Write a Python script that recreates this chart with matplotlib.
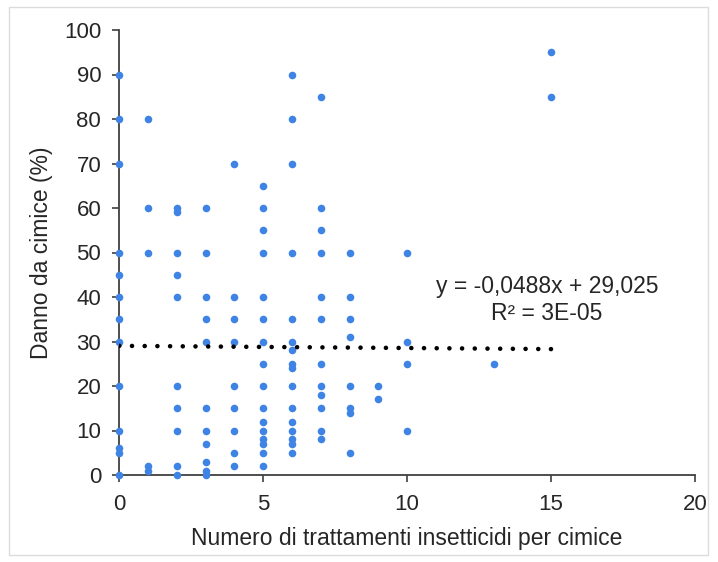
import matplotlib
matplotlib.use("Agg")
import matplotlib.pyplot as plt
from matplotlib.patches import Rectangle

plt.rcParams['font.family'] = ['Liberation Sans', 'DejaVu Sans']

# Data: treatments (x) and damage % (y), grouped by treatment count
treat_0 = [90, 80, 70, 50, 45, 40, 35, 30, 20, 10, 6, 5, 0]
treat_1 = [80, 60, 50, 2, 1]
treat_2 = [60, 59, 50, 45, 40, 20, 15, 10, 2, 0]
treat_3 = [60, 50, 40, 35, 30, 15, 10, 7, 3, 1, 0]
treat_4 = [70, 40, 35, 30, 20, 15, 10, 5, 2]
treat_5 = [65, 60, 55, 50, 40, 35, 30, 25, 20, 15, 12, 10, 8, 7, 5, 2]
treat_6 = [90, 80, 70, 50, 35, 30, 28, 25, 24, 20, 15, 12, 10, 8, 7, 5]
treat_7 = [85, 60, 55, 50, 40, 35, 25, 20, 18, 15, 10, 8]
treat_8 = [50, 40, 35, 31, 20, 15, 14, 5]
treat_9 = [20, 17]
treat_10 = [50, 30, 25, 10]
treat_13 = [25]
treat_15 = [95, 85]

groups = {0: treat_0, 1: treat_1, 2: treat_2, 3: treat_3, 4: treat_4,
          5: treat_5, 6: treat_6, 7: treat_7, 8: treat_8, 9: treat_9,
          10: treat_10, 13: treat_13, 15: treat_15}

x_vals = []
y_vals = []
for k, ys in groups.items():
    x_vals += [k] * len(ys)
    y_vals += ys

# Trend line (as reported)
slope = -0.0488
intercept = 29.025
trend_x = [0, 15]
trend_y = [slope * v + intercept for v in trend_x]

x_ticks = [0, 5, 10, 15, 20]
y_ticks = [0, 10, 20, 30, 40, 50, 60, 70, 80, 90, 100]

W, H = 718, 562
fig = plt.figure(figsize=(W / 100, H / 100), dpi=100)
fig.patches.append(Rectangle((9 / W, 1 - 555 / H), (708 - 9) / W, (555 - 7) / H,
                             transform=fig.transFigure, fill=False,
                             edgecolor='#dcdcdc', linewidth=1.0))

ax = fig.add_axes([119.3 / W, 1 - 475 / H, (695 - 119.3) / W, (475 - 30) / H])
ax.scatter(x_vals, y_vals, s=30, color='#3F84E5', zorder=3, linewidths=0, clip_on=False)
ax.plot(trend_x, trend_y, color='black', linewidth=3.3,
        linestyle=(0, (0.01, 2.76)), dash_capstyle='round', zorder=4)

ax.set_xlim(0, 20)
ax.set_ylim(0, 100)
ax.set_xticks(x_ticks)
ax.set_yticks(y_ticks)
ax.tick_params(axis='both', direction='out', length=5, width=1.2, color='#404040',
               labelsize=16, labelcolor='#262626')
ax.tick_params(axis='y', pad=8)
ax.tick_params(axis='x', pad=9)
for s in ['top', 'right']:
    ax.spines[s].set_visible(False)
for s in ['left', 'bottom']:
    ax.spines[s].set_color('#404040')
    ax.spines[s].set_linewidth(1.3)

ax.set_xlabel('Numero di trattamenti insetticidi per cimice', fontsize=16.5,
              color='#262626', labelpad=8)
ax.set_ylabel('Danno da cimice (%)', fontsize=16.5, color='#262626', labelpad=8)

fig.text(547 / W, 1 - 287 / H, 'y = -0,0488x + 29,025', fontsize=16.5,
         color='#262626', ha='center', va='center')
fig.text(547 / W, 1 - 314 / H, 'R² = 3E-05', fontsize=16.5,
         color='#262626', ha='center', va='center')

fig.savefig('out.png', dpi=100, facecolor='white')
